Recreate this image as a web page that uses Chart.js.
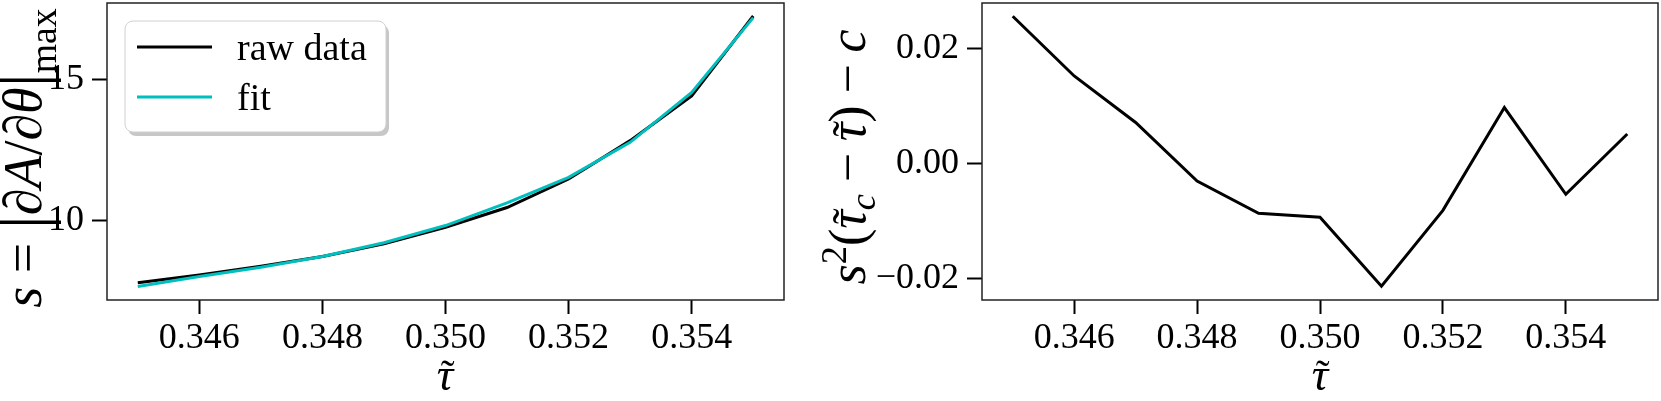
<!DOCTYPE html>
<html>
<head>
<meta charset="utf-8">
<script src="https://cdn.jsdelivr.net/npm/chart.js@4.4.0/dist/chart.umd.min.js"></script>
<style>
  html, body { margin: 0; padding: 0; background: #fff; }
  #wrap { position: relative; width: 1661px; height: 401px; overflow: hidden; }
  #left { position: absolute; left: 0; top: 0; }
  #right { position: absolute; left: 800px; top: 0; }
</style>
</head>
<body>
<div id="wrap">
  <canvas id="left" width="800" height="401"></canvas>
  <canvas id="right" width="861" height="401"></canvas>
</div>
<script>
// values
const tau = [0.345, 0.346, 0.347, 0.348, 0.349, 0.350, 0.351, 0.352, 0.353, 0.354, 0.355];
const rawData = [7.78, 8.06, 8.37, 8.71, 9.16, 9.75, 10.45, 11.46, 12.82, 14.41, 17.24];
const fitData = [7.65, 8.00, 8.33, 8.71, 9.20, 9.81, 10.61, 11.52, 12.76, 14.53, 17.18];
const residual = [0.0257, 0.0153, 0.0072, -0.0030, -0.0086, -0.0093, -0.0213, -0.0081, 0.0098, -0.0053, 0.0052];

const xTicks = [0.346, 0.348, 0.350, 0.352, 0.354];
const leftYTicks = [10, 15];
const rightYTicks = [-0.02, 0.00, 0.02];

const FAMILY = "'Liberation Serif', serif";
Chart.defaults.font.family = FAMILY;
Chart.defaults.color = '#000';

const pts = ys => tau.map((t, i) => ({ x: t, y: ys[i] }));

// box around the plot area (matplotlib spines)
const framePlugin = {
  id: 'frame',
  afterDatasetsDraw(chart) {
    const { ctx, chartArea: a } = chart;
    ctx.save();
    ctx.strokeStyle = '#222';
    ctx.lineWidth = 1.5;
    ctx.strokeRect(a.left, a.top, a.right - a.left, a.bottom - a.top);
    ctx.restore();
  }
};

// axis labels written as math: italics, sub/superscripts, tilde accents
const mathTitles = {
  id: 'mathTitles',
  afterDraw(chart, args, opts) {
    const ctx = chart.ctx;
    (opts.items || []).forEach(it => {
      const F = it.size;
      ctx.save();
      ctx.translate(it.x, it.y);
      if (it.rotate) ctx.rotate(-Math.PI / 2);
      ctx.fillStyle = '#000';
      ctx.textBaseline = 'alphabetic';
      const parts = it.runs.map(r => {
        const size = F * (r.scale || 1);
        const font = (r.italic ? 'italic ' : '') + size + 'px ' + FAMILY;
        ctx.font = font;
        return { r, size, font, w: ctx.measureText(r.t).width + (r.gap || 0) * F, dy: (r.dy || 0) * F };
      });
      const total = parts.reduce((s, p) => s + p.w, 0);
      let x = -total / 2;
      parts.forEach(p => {
        ctx.font = p.font;
        const gx = x + ((p.r.gap || 0) * F) / 2;
        ctx.fillText(p.r.t, gx, p.dy);
        if (p.r.tilde) {
          const gw = ctx.measureText(p.r.t).width;
          ctx.font = (p.size * 0.9) + 'px ' + FAMILY;
          ctx.textAlign = 'center';
          ctx.fillText('˜', gx + gw / 2 + p.size * 0.06, p.dy - p.size * 0.02);
          ctx.textAlign = 'left';
        }
        x += p.w;
      });
      ctx.restore();
    });
  }
};

// legend box inside the left plot
const boxLegend = {
  id: 'boxLegend',
  afterDraw(chart, args, o) {
    if (!o.x) return;
    const ctx = chart.ctx;
    const rr = (x, y, w, h, r) => {
      ctx.beginPath();
      ctx.moveTo(x + r, y);
      ctx.arcTo(x + w, y, x + w, y + h, r);
      ctx.arcTo(x + w, y + h, x, y + h, r);
      ctx.arcTo(x, y + h, x, y, r);
      ctx.arcTo(x, y, x + w, y, r);
      ctx.closePath();
    };
    ctx.save();
    rr(o.x + 3, o.y + 4, o.w, o.h, 8);
    ctx.fillStyle = 'rgba(0,0,0,0.22)';
    ctx.fill();
    rr(o.x, o.y, o.w, o.h, 8);
    ctx.fillStyle = '#fff';
    ctx.fill();
    ctx.strokeStyle = '#d0d0d0';
    ctx.lineWidth = 1;
    ctx.stroke();
    chart.data.datasets.forEach((ds, i) => {
      const y = o.y + 26 + i * 50;
      ctx.strokeStyle = ds.borderColor;
      ctx.lineWidth = ds.borderWidth;
      ctx.beginPath();
      ctx.moveTo(o.x + 12, y);
      ctx.lineTo(o.x + 87, y);
      ctx.stroke();
      ctx.fillStyle = '#000';
      ctx.font = '38px ' + FAMILY;
      ctx.textBaseline = 'alphabetic';
      ctx.fillText(ds.label, o.x + 112, y + 13);
    });
    ctx.restore();
  }
};

function xScale() {
  return {
    type: 'linear',
    min: 0.3445,
    max: 0.3555,
    afterBuildTicks: s => { s.ticks = xTicks.map(v => ({ value: v })); },
    afterFit: s => { s.height = 101; s.paddingLeft = 0; s.paddingRight = 0; },
    border: { display: false },
    grid: { drawOnChartArea: false, drawTicks: true, tickLength: 14, tickWidth: 2, tickColor: '#000' },
    ticks: { font: { size: 36 }, padding: 3, maxRotation: 0, callback: v => v.toFixed(3) }
  };
}

function yScale(min, max, ticks, width, fmt) {
  return {
    type: 'linear',
    min, max,
    afterBuildTicks: s => { s.ticks = ticks.map(v => ({ value: v })); },
    afterFit: s => { s.width = width; s.paddingTop = 0; s.paddingBottom = 0; },
    border: { display: false },
    grid: { drawOnChartArea: false, drawTicks: true, tickLength: 15, tickWidth: 2, tickColor: '#000' },
    ticks: { font: { size: 36 }, padding: 8, callback: fmt }
  };
}

const tauTitle = (x) => ({
  x, y: 390, size: 46, rotate: false,
  runs: [{ t: 'τ', italic: true, tilde: true }]
});

new Chart(document.getElementById('left'), {
  type: 'line',
  data: {
    datasets: [
      { label: 'raw data', data: pts(rawData), borderColor: '#000000', borderWidth: 3, pointRadius: 0, order: 1 },
      { label: 'fit', data: pts(fitData), borderColor: '#00bfbf', borderWidth: 3, pointRadius: 0, order: 0 }
    ]
  },
  options: {
    responsive: false,
    animation: false,
    layout: { padding: { left: 0, right: 16, top: 3, bottom: 0 } },
    scales: {
      x: xScale(),
      y: yScale(7.17, 17.70, leftYTicks, 107, v => String(v))
    },
    plugins: {
      legend: { display: false },
      tooltip: { enabled: false },
      boxLegend: { x: 125, y: 21, w: 261, h: 111 },
      mathTitles: {
        items: [
          tauTitle(445),
          {
            x: 41, y: 158, size: 54, rotate: true,
            runs: [
              { t: 's', italic: true },
              { t: '=', gap: 0.5 },
              { t: '|', scale: 1.3, dy: 0.1 },
              { t: '∂', italic: true },
              { t: 'A', italic: true },
              { t: '/' },
              { t: '∂', italic: true },
              { t: 'θ', italic: true },
              { t: '|', scale: 1.3, dy: 0.1 },
              { t: 'max', scale: 0.7, dy: 0.28 }
            ]
          }
        ]
      }
    }
  },
  plugins: [framePlugin, boxLegend, mathTitles]
});

new Chart(document.getElementById('right'), {
  type: 'line',
  data: {
    datasets: [
      { label: 'residual', data: pts(residual), borderColor: '#000000', borderWidth: 3, pointRadius: 0 }
    ]
  },
  options: {
    responsive: false,
    animation: false,
    layout: { padding: { left: 0, right: 3, top: 3, bottom: 0 } },
    scales: {
      x: xScale(),
      y: yScale(-0.0237, 0.0280, rightYTicks, 182,
        v => (Math.abs(v) < 1e-9 ? '0.00' : (v < 0 ? '−' : '') + Math.abs(v).toFixed(2)))
    },
    plugins: {
      legend: { display: false },
      tooltip: { enabled: false },
      mathTitles: {
        items: [
          tauTitle(520),
          {
            x: 65, y: 157, size: 52, rotate: true,
            runs: [
              { t: 's', italic: true },
              { t: '2', scale: 0.7, dy: -0.36 },
              { t: '(' },
              { t: 'τ', italic: true, tilde: true },
              { t: 'c', italic: true, scale: 0.7, dy: 0.2 },
              { t: '−', gap: 0.45 },
              { t: 'τ', italic: true, tilde: true },
              { t: ')' },
              { t: '−', gap: 0.45 },
              { t: 'c', italic: true }
            ]
          }
        ]
      }
    }
  },
  plugins: [framePlugin, mathTitles]
});
</script>
</body>
</html>
